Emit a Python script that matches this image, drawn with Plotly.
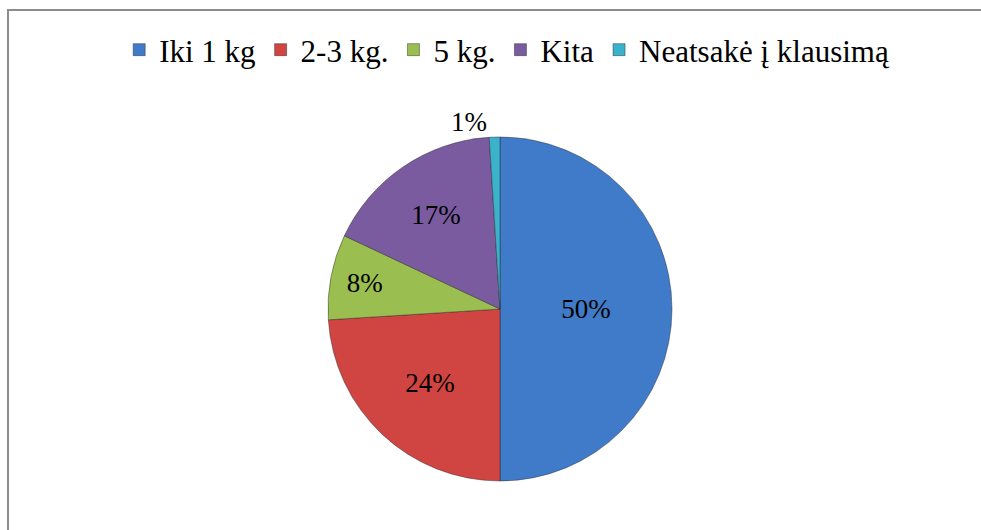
import plotly.graph_objects as go

labels = ["Iki 1 kg", "2-3 kg.", "5 kg.", "Kita", "Neatsakė į klausimą"]
values = [50, 24, 8, 17, 1]
colors = ["#3F7BC8", "#D04442", "#9BBE50", "#7A5BA0", "#3AB2CC"]
text_pos = ["inside", "inside", "inside", "inside", "outside"]

serif = "Liberation Serif"

pie = go.Pie(
    labels=labels,
    values=values,
    sort=False,
    direction="clockwise",
    rotation=0,
    marker=dict(colors=colors, line=dict(color="rgba(40,40,40,0.45)", width=1)),
    texttemplate="%{percent:.0%}",
    textposition=text_pos,
    insidetextorientation="horizontal",
    textfont=dict(family=serif, size=27, color="black"),
    domain=dict(x=[327 / 981, 673 / 981], y=[1 - 481 / 530, 1 - 137 / 530]),
    hoverinfo="label+percent",
)

fig = go.Figure(data=[pie])

fig.update_layout(
    width=981,
    height=530,
    margin=dict(l=0, r=0, t=0, b=0),
    paper_bgcolor="white",
    plot_bgcolor="white",
    font=dict(family=serif, color="black"),
    uniformtext=dict(minsize=26, mode="show"),
    showlegend=True,
    legend=dict(
        orientation="h",
        x=0.517,
        xanchor="center",
        y=1 - 50 / 530,
        yanchor="middle",
        font=dict(family=serif, size=31, color="black"),
        itemwidth=30,
        traceorder="normal",
    ),
    # chart area border (only top and left edges are inside the picture)
    shapes=[
        dict(
            type="rect",
            xref="paper",
            yref="paper",
            x0=8 / 981,
            x1=1.05,
            y0=-0.05,
            y1=1 - 10 / 530,
            line=dict(color="#8C8C8C", width=2),
            fillcolor="rgba(0,0,0,0)",
            layer="below",
        )
    ],
)

# page body has a default 8px margin; drop it so the figure sits at 0,0
fig.write_html(
    "out.html",
    config={"displayModeBar": False},
    post_script="document.body.style.margin='0';",
)
